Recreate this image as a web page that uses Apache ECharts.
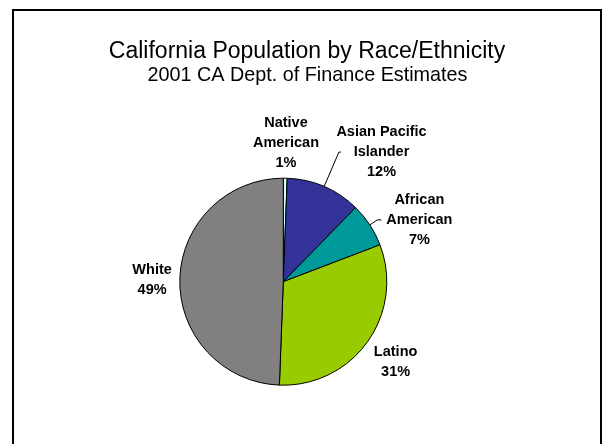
<!DOCTYPE html>
<html>
<head>
<meta charset="utf-8">
<script src="https://cdn.jsdelivr.net/npm/echarts@6/dist/echarts.min.js"></script>
<style>
  html, body { margin: 0; padding: 0; background: #fff; }
  #chart { width: 602px; height: 444px; }
</style>
</head>
<body>
<div id="chart"></div>
<script>
// Population shares (percent) by group, 2001 estimates
const categories = ['Native\nAmerican', 'Asian Pacific\nIslander', 'African\nAmerican', 'Latino', 'White'];
const shares = [0.6, 11.7, 6.9, 31.4, 49.4];
const titleText = 'California Population by Race/Ethnicity';
const subtitleText = '2001 CA Dept. of Finance Estimates';

// Slice fills, in category order
const sliceColors = ['#CCFFFF', '#333399', '#009999', '#99CC00', '#808080'];

// Outside-label placement for each slice: radial leader length, horizontal
// leader length, gap between leader end and text, and whether the leader shows
const labelPlacement = [
  { len: 35, len2: -38, gap: 5, line: false },
  { len: 37.5, len2: 2, gap: -4.5, line: true },
  { len: 9, len2: 4, gap: 5, line: true },
  { len: 35, len2: -27, gap: 5, line: false },
  { len: 2, len2: 1, gap: 5, line: false }
];

const FONT = '"Liberation Sans", Arial, Helvetica, sans-serif';
const labelTextStyle = {
  fontFamily: FONT,
  fontWeight: 'bold',
  fontSize: 14.5,
  lineHeight: 20,
  color: '#000'
};

const chart = echarts.init(document.getElementById('chart'), null, { renderer: 'canvas' });

const pieData = categories.map((name, i) => ({
  name: name,
  value: shares[i],
  itemStyle: { color: sliceColors[i] },
  label: { distanceToLabelLine: labelPlacement[i].gap },
  labelLine: {
    show: labelPlacement[i].line,
    length: labelPlacement[i].len,
    length2: labelPlacement[i].len2
  }
}));

chart.setOption({
  animation: false,
  backgroundColor: '#fff',
  graphic: [
    {
      type: 'rect',
      shape: { x: 13, y: 10, width: 588, height: 460 },
      style: { fill: 'none', stroke: '#000', lineWidth: 2 },
      silent: true
    },
    {
      type: 'text',
      x: 307,
      y: 52,
      style: {
        text: titleText,
        font: '23px ' + FONT,
        fill: '#000',
        align: 'center',
        verticalAlign: 'middle'
      },
      silent: true
    },
    {
      type: 'text',
      x: 307.5,
      y: 75.5,
      style: {
        text: subtitleText,
        font: '19.8px ' + FONT,
        fill: '#000',
        align: 'center',
        verticalAlign: 'middle'
      },
      silent: true
    }
  ],
  series: [
    {
      type: 'pie',
      center: [283.3, 281.7],
      radius: 103.5,
      startAngle: 90,
      clockwise: true,
      avoidLabelOverlap: false,
      percentPrecision: 0,
      data: pieData,
      itemStyle: { borderColor: '#000', borderWidth: 1 },
      label: {
        show: true,
        position: 'outside',
        alignTo: 'none',
        formatter: p => '{c|' + p.name + '}\n{c|' + p.percent + '%}',
        ...labelTextStyle,
        rich: {
          c: Object.assign({ align: 'center' }, labelTextStyle)
        }
      },
      labelLine: {
        lineStyle: { color: '#000', width: 1 },
        minTurnAngle: 0,
        maxSurfaceAngle: 180
      },
      emphasis: { disabled: true },
      silent: true
    }
  ]
});
</script>
</body>
</html>
